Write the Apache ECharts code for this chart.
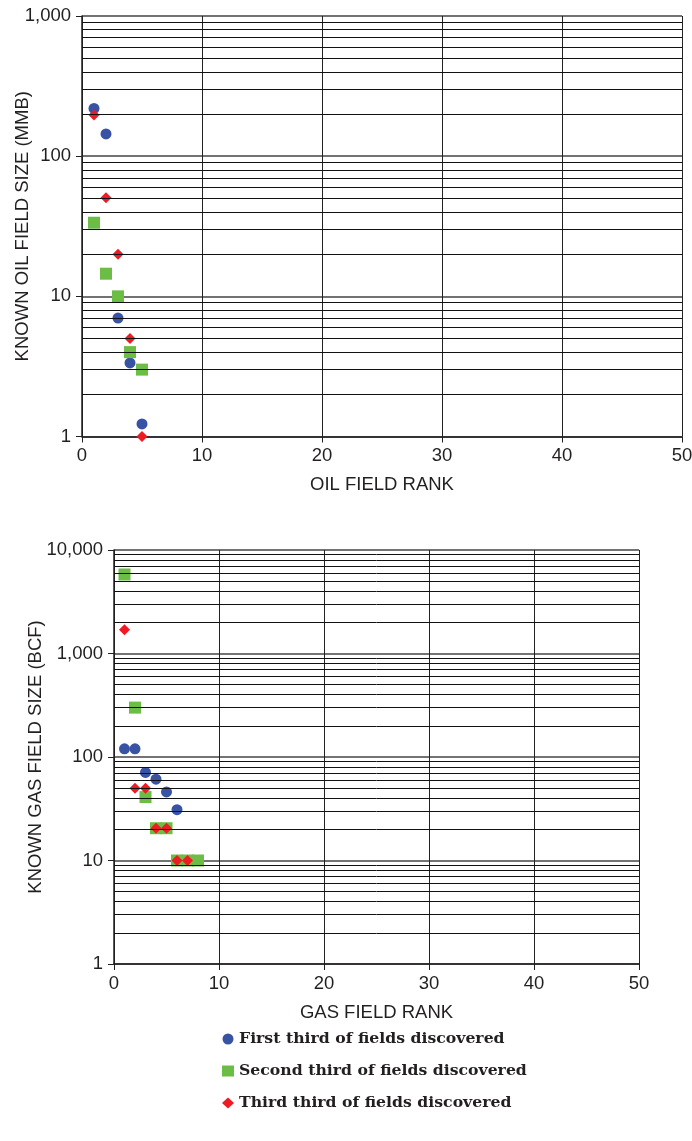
<!DOCTYPE html>
<html>
<head>
<meta charset="utf-8">
<script src="https://cdn.jsdelivr.net/npm/echarts@6/dist/echarts.min.js"></script>
<style>
  html, body { margin: 0; padding: 0; background: #fff; }
  #chart { width: 692px; height: 1141px; }
</style>
</head>
<body>
<div id="chart"></div>
<script>
// field rank vs known size
const seriesNames = ['First third of fields discovered', 'Second third of fields discovered', 'Third third of fields discovered'];
const oilFirst = [[1, 219], [2, 144], [3, 7], [4, 3.35], [5, 1.23]];
const oilSecond = [[1, 33.5], [2, 14.5], [3, 10], [4, 4], [5, 3]];
const oilThird = [[1, 197], [2, 50.5], [3, 20], [4, 5], [5, 1]];
const gasFirst = [[1, 120], [2, 120], [3, 71], [4, 61], [5, 46], [6, 31]];
const gasSecond = [[1, 5800], [2, 300], [3, 41], [4, 20.5], [5, 20.5], [6, 10], [7, 10], [8, 10]];
const gasThird = [[1, 1700], [2, 50], [3, 50], [4, 20.5], [5, 20.5], [6, 10], [7, 10]];
const oilDecades = [1, 10, 100];
const gasDecades = [1, 10, 100, 1000];
const minorSteps = [2, 3, 4, 5, 6, 7, 8, 9];

const ink = '#231f20';
const colors = ['#3953a4', '#6cbd45', '#ed1c24'];
const symbols = ['circle', 'rect', 'diamond'];
const sizes = [11, 12, 11];

function minorLines(decades) {
  const out = [];
  decades.forEach(d => minorSteps.forEach(s => out.push({ yAxis: d * s })));
  return out;
}

function xAxisFor(gridIndex, name) {
  return {
    gridIndex, type: 'value', min: 0, max: 50, interval: 10,
    name, nameLocation: 'middle', nameGap: 39, nameMoveOverlap: false,
    nameTextStyle: { color: ink, fontSize: 18.5, fontFamily: 'Liberation Sans' },
    axisLine: { lineStyle: { color: ink, width: 1.5 } },
    axisTick: { show: true, length: 6, lineStyle: { color: ink } },
    axisLabel: { color: ink, fontSize: 18.5, fontFamily: 'Liberation Sans', margin: 10 },
    splitLine: { show: true, lineStyle: { color: '#222', width: 1 } }
  };
}

function yAxisFor(gridIndex, max, name, gap) {
  return {
    gridIndex, type: 'log', logBase: 10, min: 1, max,
    name, nameLocation: 'middle', nameGap: gap, nameMoveOverlap: false,
    nameTextStyle: { color: ink, fontSize: 18.5, fontFamily: 'Liberation Sans' },
    axisLine: { show: true, lineStyle: { color: ink, width: 1.5 } },
    axisTick: { show: true, length: 6, lineStyle: { color: ink } },
    axisLabel: {
      color: ink, fontSize: 18.5, fontFamily: 'Liberation Sans', margin: 11,
      formatter: v => Number(v).toLocaleString('en-US')
    },
    splitLine: { show: true, lineStyle: { color: '#444', width: 1.5 } }
  };
}

function pointSeries(i, data, axisIndex) {
  return {
    name: seriesNames[i], type: 'scatter', data,
    xAxisIndex: axisIndex, yAxisIndex: axisIndex,
    symbol: symbols[i], symbolSize: sizes[i], z: 3,
    itemStyle: { color: colors[i], opacity: 1 }
  };
}

function gridLines(axisIndex, decades) {
  return {
    type: 'line', data: [], xAxisIndex: axisIndex, yAxisIndex: axisIndex, z: 1,
    silent: true,
    markLine: {
      silent: true, symbol: ['none', 'none'], animation: false,
      label: { show: false },
      lineStyle: { color: '#111', width: 1, type: 'solid' },
      emphasis: { disabled: true },
      data: minorLines(decades)
    }
  };
}

const chart = echarts.init(document.getElementById('chart'));
chart.setOption({
  animation: false,
  backgroundColor: '#fff',
  grid: [
    { left: 82, top: 16, width: 600, height: 420.5, outerBoundsMode: 'none', containLabel: false },
    { left: 114, top: 550, width: 525, height: 414, outerBoundsMode: 'none', containLabel: false }
  ],
  xAxis: [xAxisFor(0, 'OIL FIELD RANK'), xAxisFor(1, 'GAS FIELD RANK')],
  yAxis: [
    yAxisFor(0, 1000, 'KNOWN OIL FIELD SIZE (MMB)', 50),
    yAxisFor(1, 10000, 'KNOWN GAS FIELD SIZE (BCF)', 69)
  ],
  legend: {
    data: seriesNames, orient: 'vertical', left: 217, top: 1026,
    itemWidth: 12, itemHeight: 11, itemGap: 16,
    textStyle: { color: ink, fontSize: 15.7, fontWeight: 'bold', fontFamily: 'DejaVu Serif' },
    selectedMode: false
  },
  series: [
    gridLines(0, oilDecades),
    gridLines(1, gasDecades),
    pointSeries(0, oilFirst, 0),
    pointSeries(1, oilSecond, 0),
    pointSeries(2, oilThird, 0),
    pointSeries(0, gasFirst, 1),
    pointSeries(1, gasSecond, 1),
    pointSeries(2, gasThird, 1)
  ]
});
</script>
</body>
</html>
